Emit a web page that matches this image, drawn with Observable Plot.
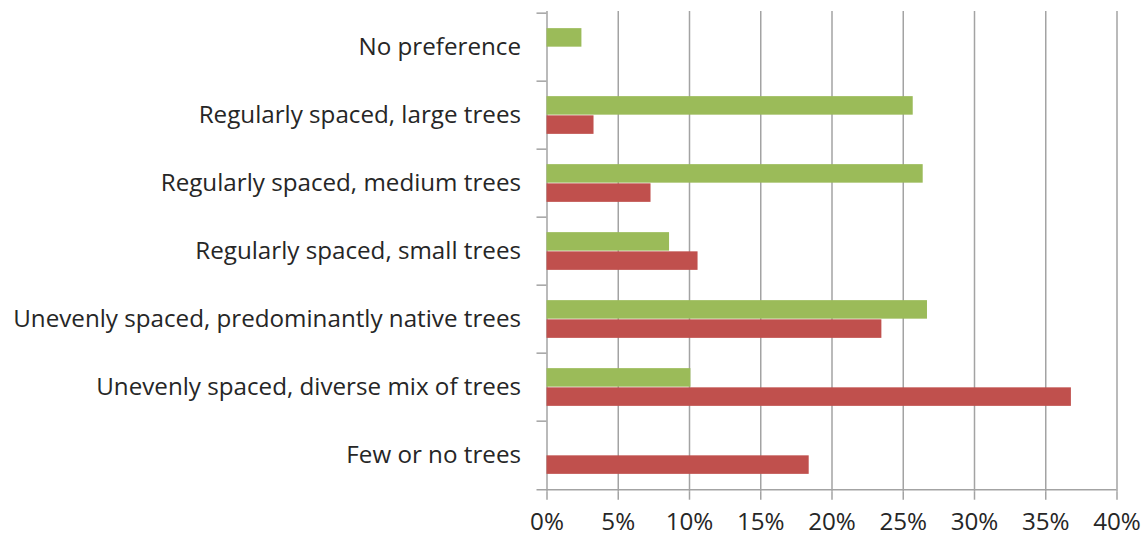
<!DOCTYPE html>
<html>
<head>
<meta charset="utf-8">
<script src="https://cdn.jsdelivr.net/npm/d3@7"></script>
<script src="https://cdn.jsdelivr.net/npm/@observablehq/plot@0.6"></script>
<style>
  html, body { margin: 0; padding: 0; background: #ffffff; }
  #chart svg { display: block; }
</style>
</head>
<body>
<div id="chart"></div>
<script>
const categories = [
  "No preference",
  "Regularly spaced, large trees",
  "Regularly spaced, medium trees",
  "Regularly spaced, small trees",
  "Unevenly spaced, predominantly native trees",
  "Unevenly spaced, diverse mix of trees",
  "Few or no trees"
];
const series1Values = [2.45, 25.7, 26.4, 8.6, 26.7, 10.1, 0];
const series2Values = [0, 3.3, 7.3, 10.6, 23.5, 36.8, 18.4];
const xTicks = [0, 5, 10, 15, 20, 25, 30, 35, 40];

const series1 = categories.map((c, i) => ({category: c, value: series1Values[i]}));
const series2 = categories.map((c, i) => ({category: c, value: series2Values[i]}));

const W = 1146, H = 539;
const mTop = 11, mBottom = 47.3, mLeft = 546.5, mRight = 29.5;
const band = (H - mTop - mBottom) / categories.length;
const barH = 19.2;
const padOuter = (band - 2 * barH) / 2;
const gridColor = "#a3a3a3";
const textColor = "#262626";
const fs = 24.2;

const chart = Plot.plot({
  width: W,
  height: H,
  marginTop: mTop,
  marginBottom: mBottom,
  marginLeft: mLeft,
  marginRight: mRight,
  style: {fontFamily: "'Open Sans', Lato, sans-serif", fontSize: fs + "px", color: textColor, background: "#ffffff"},
  x: {domain: [0, 40], ticks: xTicks, tickFormat: d => d + "%"},
  y: {domain: categories, padding: 0},
  marks: [
    Plot.ruleX(xTicks, {stroke: gridColor, strokeWidth: 1.5}),
    Plot.barX(series1, {y: "category", x: "value", fill: "#9BBB59", insetTop: padOuter, insetBottom: band - padOuter - barH}),
    Plot.barX(series2, {y: "category", x: "value", fill: "#C0504D", insetTop: padOuter + barH, insetBottom: padOuter}),
    Plot.ruleY(categories, {y: d => d, x1: 0, x2: 0, insetLeft: -10, dy: -band / 2, stroke: gridColor, strokeWidth: 1.5}),
    Plot.ruleY([categories[categories.length - 1]], {y: d => d, x1: 0, x2: 40, insetLeft: -10, dy: band / 2, stroke: gridColor, strokeWidth: 1.5}),
    Plot.axisX({ticks: xTicks, tickFormat: d => d + "%", tickSize: 8, tickPadding: 13, stroke: gridColor, strokeWidth: 1.5, fill: textColor, fontSize: fs, label: null}),
    Plot.axisY({tickSize: 0, tickPadding: 26, fill: textColor, fontSize: fs, label: null})
  ]
});
document.getElementById("chart").appendChild(chart);
</script>
</body>
</html>
